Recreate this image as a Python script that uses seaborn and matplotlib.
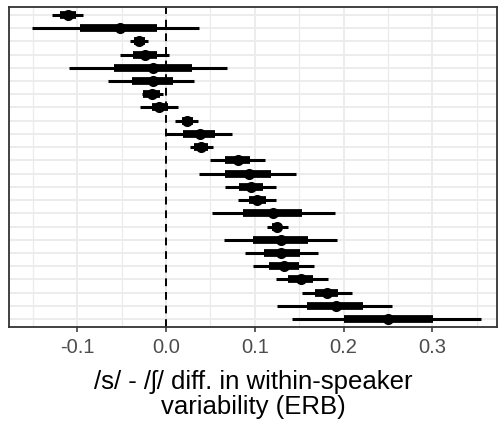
import numpy as np
import pandas as pd
import matplotlib
matplotlib.use('Agg')
import matplotlib.pyplot as plt
import seaborn as sns
from matplotlib.ticker import MultipleLocator

# posterior summaries per speaker, ordered top to bottom
estimate = [-0.111, -0.052, -0.030, -0.024, -0.015, -0.015, -0.016, -0.0075,
            0.024, 0.038, 0.039, 0.081, 0.094, 0.096, 0.102, 0.120,
            0.125, 0.129, 0.130, 0.133, 0.152, 0.181, 0.191, 0.250]
inner_lo = [-0.120, -0.097, -0.036, -0.037, -0.059, -0.038, -0.026, -0.016,
            0.018, 0.019, 0.032, 0.066, 0.066, 0.082, 0.093, 0.087,
            0.119, 0.098, 0.110, 0.116, 0.138, 0.168, 0.159, 0.201]
inner_hi = [-0.102, -0.010, -0.024, -0.010, 0.029, 0.008, -0.007, 0.002,
            0.030, 0.055, 0.047, 0.095, 0.118, 0.109, 0.113, 0.153,
            0.130, 0.160, 0.151, 0.150, 0.166, 0.194, 0.222, 0.301]
outer_lo = [-0.129, -0.151, -0.041, -0.052, -0.109, -0.065, -0.027, -0.029,
            0.010, 0.000, 0.027, 0.050, 0.037, 0.067, 0.081, 0.052,
            0.114, 0.065, 0.089, 0.098, 0.124, 0.153, 0.125, 0.142]
outer_hi = [-0.094, 0.037, -0.020, 0.003, 0.069, 0.031, -0.003, 0.014,
            0.036, 0.074, 0.053, 0.111, 0.147, 0.124, 0.124, 0.190,
            0.137, 0.193, 0.171, 0.167, 0.182, 0.210, 0.255, 0.355]

df = pd.DataFrame({'row': np.arange(len(estimate)), 'est': estimate,
                   'lo50': inner_lo, 'hi50': inner_hi,
                   'lo95': outer_lo, 'hi95': outer_hi})

sns.set_theme(style='whitegrid')
plt.rcParams['font.family'] = ['Liberation Sans', 'DejaVu Sans']

fig = plt.figure(figsize=(4.99, 4.21), dpi=100)
ax = fig.add_axes([9 / 499, 1 - 327 / 421, 488 / 499, 320 / 421])

ax.hlines(df['row'], df['lo95'], df['hi95'], color='black', lw=2.2, zorder=3)
ax.hlines(df['row'], df['lo50'], df['hi50'], color='black', lw=5.6, zorder=4)
sns.scatterplot(data=df, x='est', y='row', color='black', s=64,
                edgecolor='black', linewidth=0, zorder=5, ax=ax, legend=False)
ax.axvline(0, color='black', ls=(0, (4, 3)), lw=1.4, zorder=2)

ax.set_xlim(-0.177, 0.373)
ax.set_ylim(len(estimate) - 0.4, -0.6)
ax.xaxis.set_major_locator(MultipleLocator(0.1))
ax.xaxis.set_minor_locator(MultipleLocator(0.05))
ax.set_xticks([-0.1, 0.0, 0.1, 0.2, 0.3])
ax.set_xticklabels(['-0.1', '0.0', '0.1', '0.2', '0.3'])
ax.set_yticks(df['row'])
ax.set_yticklabels([])

ax.set_facecolor('white')
ax.grid(True, which='major', color='#EBEBEB', lw=1.3)
ax.grid(True, which='minor', axis='x', color='#EBEBEB', lw=0.9)
for s in ax.spines.values():
    s.set_color('#333333')
    s.set_linewidth(1.3)

ax.tick_params(axis='x', which='major', length=3.6, width=1.1, color='#333333',
               labelsize=14.5, labelcolor='#4D4D4D', pad=4.5, bottom=True)
ax.tick_params(axis='x', which='minor', length=0)
ax.tick_params(axis='y', length=0)

ax.set_xlabel('/s/ - /ʃ/ diff. in within-speaker\nvariability (ERB)',
              fontsize=18.5, color='black', labelpad=9, linespacing=1.07)
ax.set_ylabel('')

fig.savefig('out.png', dpi=100)
